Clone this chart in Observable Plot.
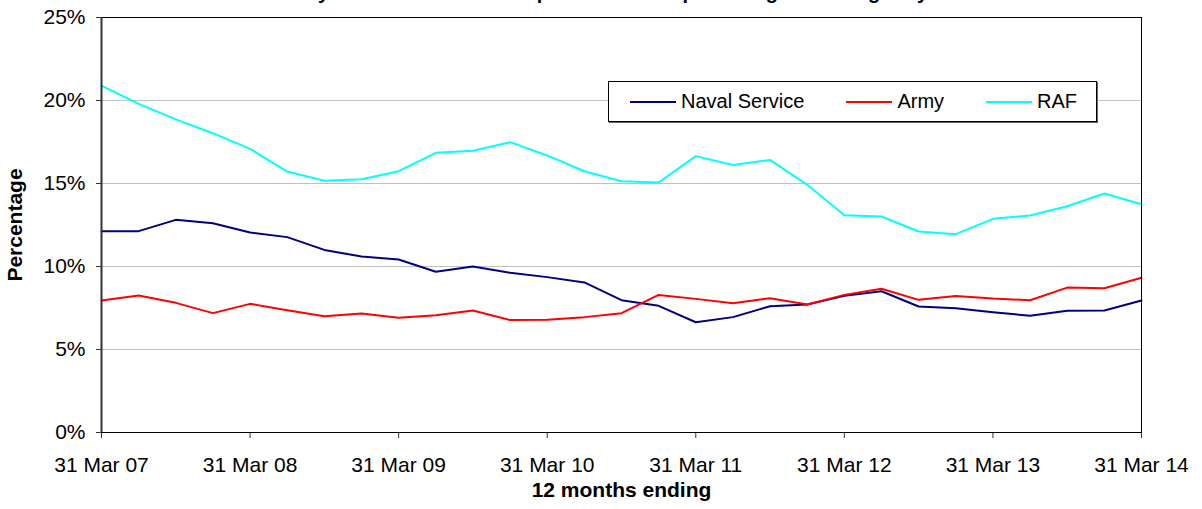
<!DOCTYPE html>
<html>
<head>
<meta charset="utf-8">
<script src="https://cdn.jsdelivr.net/npm/d3@7"></script>
<script src="https://cdn.jsdelivr.net/npm/@observablehq/plot@0.6"></script>
<style>
  html, body { margin: 0; padding: 0; background: white; }
  #wrap { position: relative; width: 1202px; height: 509px; overflow: hidden; font-family: Arial, "Liberation Sans", sans-serif; }
  #legend { position: absolute; left: 608px; top: 81px; width: 466px; height: 39px; border: 1px solid #000; background: #fff;
            display: flex; align-items: center; padding-left: 21px; box-sizing: content-box; box-shadow: 1px 1px 0 #666; }
  .item { display: flex; align-items: center; margin-right: 42px; font-size: 20px; white-space: nowrap; flex-shrink: 0; }
  .swatch { width: 46px; height: 0; border-top: 2px solid; margin-right: 5px; }
</style>
</head>
<body>
<div id="wrap"></div>
<script>
const quarters = [
  "31 Mar 07","30 Jun 07","30 Sep 07","31 Dec 07",
  "31 Mar 08","30 Jun 08","30 Sep 08","31 Dec 08",
  "31 Mar 09","30 Jun 09","30 Sep 09","31 Dec 09",
  "31 Mar 10","30 Jun 10","30 Sep 10","31 Dec 10",
  "31 Mar 11","30 Jun 11","30 Sep 11","31 Dec 11",
  "31 Mar 12","30 Jun 12","30 Sep 12","31 Dec 12",
  "31 Mar 13","30 Jun 13","30 Sep 13","31 Dec 13",
  "31 Mar 14"
];
const yearTicks = ["31 Mar 07","31 Mar 08","31 Mar 09","31 Mar 10","31 Mar 11","31 Mar 12","31 Mar 13","31 Mar 14"];
const yTicks = [0, 5, 10, 15, 20, 25];

const navalService = [12.13, 12.13, 12.81, 12.61, 12.05, 11.77, 11.0, 10.6, 10.42, 9.68, 10.0, 9.62, 9.36, 9.04, 7.97, 7.63, 6.64, 6.95, 7.61, 7.71, 8.23, 8.51, 7.59, 7.49, 7.25, 7.03, 7.33, 7.35, 7.95];
const army = [7.95, 8.25, 7.81, 7.19, 7.75, 7.37, 7.0, 7.17, 6.91, 7.07, 7.35, 6.77, 6.79, 6.95, 7.19, 8.29, 8.05, 7.79, 8.09, 7.71, 8.29, 8.66, 7.99, 8.23, 8.07, 7.97, 8.73, 8.69, 9.32];
const raf = [20.9, 19.8, 18.86, 18.03, 17.09, 15.72, 15.16, 15.26, 15.74, 16.85, 16.97, 17.49, 16.69, 15.74, 15.14, 15.06, 16.65, 16.12, 16.42, 14.92, 13.09, 13.01, 12.11, 11.95, 12.87, 13.07, 13.63, 14.4, 13.75];

const seriesNames = ["Naval Service", "Army", "RAF"];
const seriesColors = ["#000080", "#ff0000", "#00ffff"];
const seriesValues = [navalService, army, raf];

const titleText = "Voluntary Outflow from trained personnel as a percentage of strength by Service";
const xLabel = "12 months ending";
const yLabel = "Percentage";

const rows = [];
seriesNames.forEach((name, s) => {
  seriesValues[s].forEach((v, i) => rows.push({series: name, quarter: quarters[i], value: v}));
});

const chart = Plot.plot({
  width: 1202,
  height: 509,
  marginLeft: 101,
  marginRight: 61,
  marginTop: 17,
  marginBottom: 77,
  style: {fontFamily: 'Arial, "Liberation Sans", sans-serif', fontSize: "21px", color: "#000", background: "#fff", overflow: "hidden"},
  x: {type: "point", domain: quarters, padding: 0, round: false},
  y: {domain: [0, 25]},
  color: {domain: seriesNames, range: seriesColors},
  marks: [
    Plot.gridY(yTicks.filter(d => d > 0 && d < 25), {stroke: "#c0c0c0", strokeOpacity: 1, strokeWidth: 1}),
    Plot.axisY({ticks: yTicks, tickFormat: d => d + "%", tickSize: 5, tickPadding: 11, label: null, stroke: "#333"}),
    Plot.axisX({ticks: yearTicks, tickSize: 6, tickPadding: 19, label: null, stroke: "#333"}),
    Plot.line(rows, {x: "quarter", y: "value", z: "series", stroke: "series", strokeWidth: 2}),
    Plot.frame({stroke: "#000", strokeWidth: 1}),
    Plot.ruleX([quarters[0]], {stroke: "#333", strokeWidth: 2}),
    Plot.text([yLabel], {frameAnchor: "left", textAnchor: "middle", dx: -86, rotate: -90, fontWeight: "bold", fontSize: 21}),
    Plot.text([xLabel], {frameAnchor: "bottom", textAnchor: "middle", dy: 64, fontWeight: "bold", fontSize: 21}),
    Plot.text([titleText], {frameAnchor: "top", textAnchor: "middle", dy: -33, fontWeight: "bold", fontSize: 20})
  ]
});

const wrap = document.getElementById("wrap");
wrap.appendChild(chart);

const legend = document.createElement("div");
legend.id = "legend";
seriesNames.forEach((name, s) => {
  const item = document.createElement("div");
  item.className = "item";
  const sw = document.createElement("span");
  sw.className = "swatch";
  sw.style.borderTopColor = seriesColors[s];
  const lab = document.createElement("span");
  lab.textContent = name;
  item.appendChild(sw);
  item.appendChild(lab);
  legend.appendChild(item);
});
wrap.appendChild(legend);
</script>
</body>
</html>
